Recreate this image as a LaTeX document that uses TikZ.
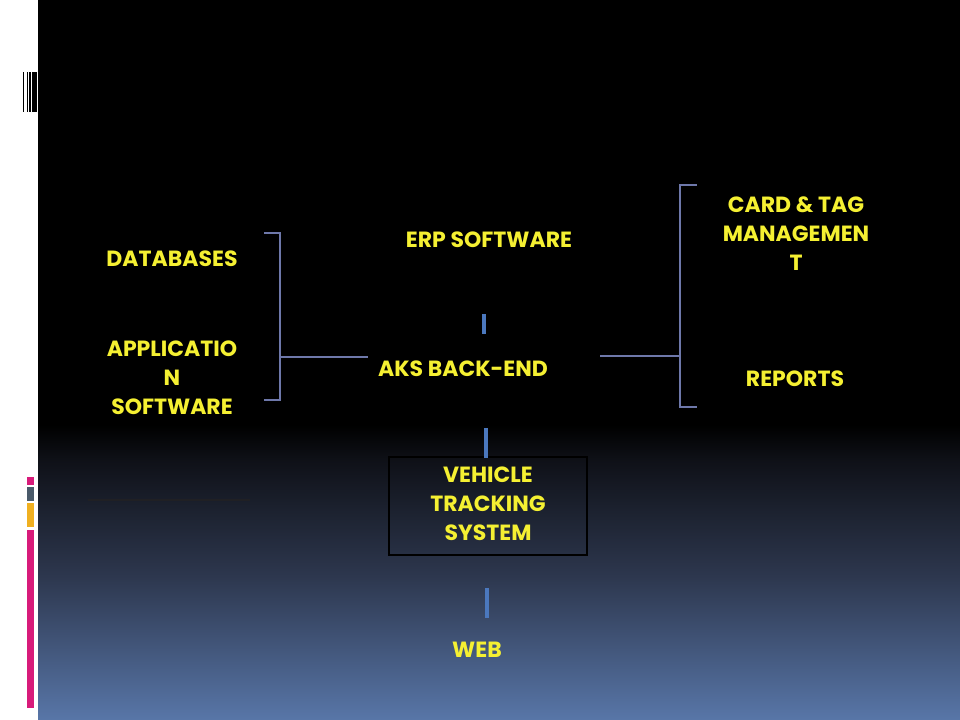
\documentclass[tikz,border=0pt]{standalone}
\usepackage{fontspec}
\setmainfont{Poppins}
\definecolor{bgbot}{RGB}{88,118,168}
\definecolor{bgmid}{RGB}{45,55,78}
\definecolor{bgdark}{RGB}{15,17,24}
\definecolor{txtyellow}{RGB}{245,240,50}
\definecolor{barblue}{RGB}{75,120,190}
\definecolor{brk}{RGB}{110,120,170}
\definecolor{pinkbar}{RGB}{216,27,122}
\definecolor{graybar}{RGB}{74,90,106}
\definecolor{orangebar}{RGB}{240,176,32}
\pgfdeclareverticalshading{bgshade}{100bp}{color(0bp)=(bgbot); color(25bp)=(bgbot); color(35bp)=(bgmid); color(43bp)=(bgdark); color(45.5bp)=(black); color(100bp)=(black)}
\tikzset{
  lbl/.style={text=txtyellow, align=center, inner sep=0pt,
    font=\fontsize{16.5}{21.75}\selectfont\bfseries},
  brack/.style={draw=brk, line width=0.8pt},
  vbar/.style={draw=barblue, line width=3pt},
}
\begin{document}
\begin{tikzpicture}[x=0.75pt,y=-0.75pt]
\useasboundingbox (0,0) rectangle (960,720);
\fill[white] (0,0) rectangle (960,720);
\shade[shading=bgshade] (38,0) rectangle (960,720);
% barcode decoration
\fill[black] (22.7,72) rectangle (24,112);
\fill[black] (26.7,72) rectangle (27.7,112);
\fill[black] (28.7,72) rectangle (30.7,112);
\fill[black] (31.7,72) rectangle (36.7,112);
% colour bars
\fill[pinkbar] (27,477) rectangle (34,485);
\fill[graybar] (27,487) rectangle (34,501);
\fill[orangebar] (27,503) rectangle (34,527);
\fill[pinkbar] (27,530) rectangle (34,708);
% faint line
\draw[draw={rgb,255:red,32;green,32;blue,36}, line width=0.8pt] (88,500) -- (250,500);

% nodes
\node[lbl] (db) at (172,259) {DATABASES};
\node[lbl] (app) at (172,378) {APPLICATIO\\N\\SOFTWARE};
\node[lbl] (erp) at (489,240) {ERP SOFTWARE};
\node[lbl] (aks) at (463,369) {AKS BACK-END};
\node[lbl] (card) at (796,234) {CARD \& TAG\\MANAGEMEN\\T};
\node[lbl] (rep) at (795,379) {REPORTS};
\node[draw=black, line width=1.5pt, minimum width=198*0.75pt, minimum height=98*0.75pt, inner sep=0pt] (vtsbox) at (488,506) {};
\node[lbl] (vts) at (488,504) {VEHICLE\\TRACKING\\SYSTEM};
\node[lbl] (web) at (477,650) {WEB};

% left bracket
\coordinate (lt) at (264,233);
\coordinate (lb) at (264,400);
\coordinate (lj) at (280,357);
\coordinate (lend) at (368,357);
\draw[brack] (lt) -- (lt -| lj) -- (lb -| lj) -- (lb);
\draw[brack] (lj) -- (lend);
% right bracket
\coordinate (rt) at (697,185);
\coordinate (rb) at (697,407);
\coordinate (rj) at (680,356);
\coordinate (rstart) at (600,356);
\draw[brack] (rt) -- (rt -| rj) -- (rb -| rj) -- (rb);
\draw[brack] (rstart) -- (rj);

% blue bars
\coordinate (b1t) at (484,314); \coordinate (b1b) at (484,334);
\coordinate (b2t) at (486,428); \coordinate (b2b) at (486,458);
\coordinate (b3t) at (487,588); \coordinate (b3b) at (487,618);
\draw[vbar] (b1t) -- (b1b);
\draw[vbar] (b2t) -- (b2b);
\draw[vbar] (b3t) -- (b3b);
\end{tikzpicture}
\end{document}
